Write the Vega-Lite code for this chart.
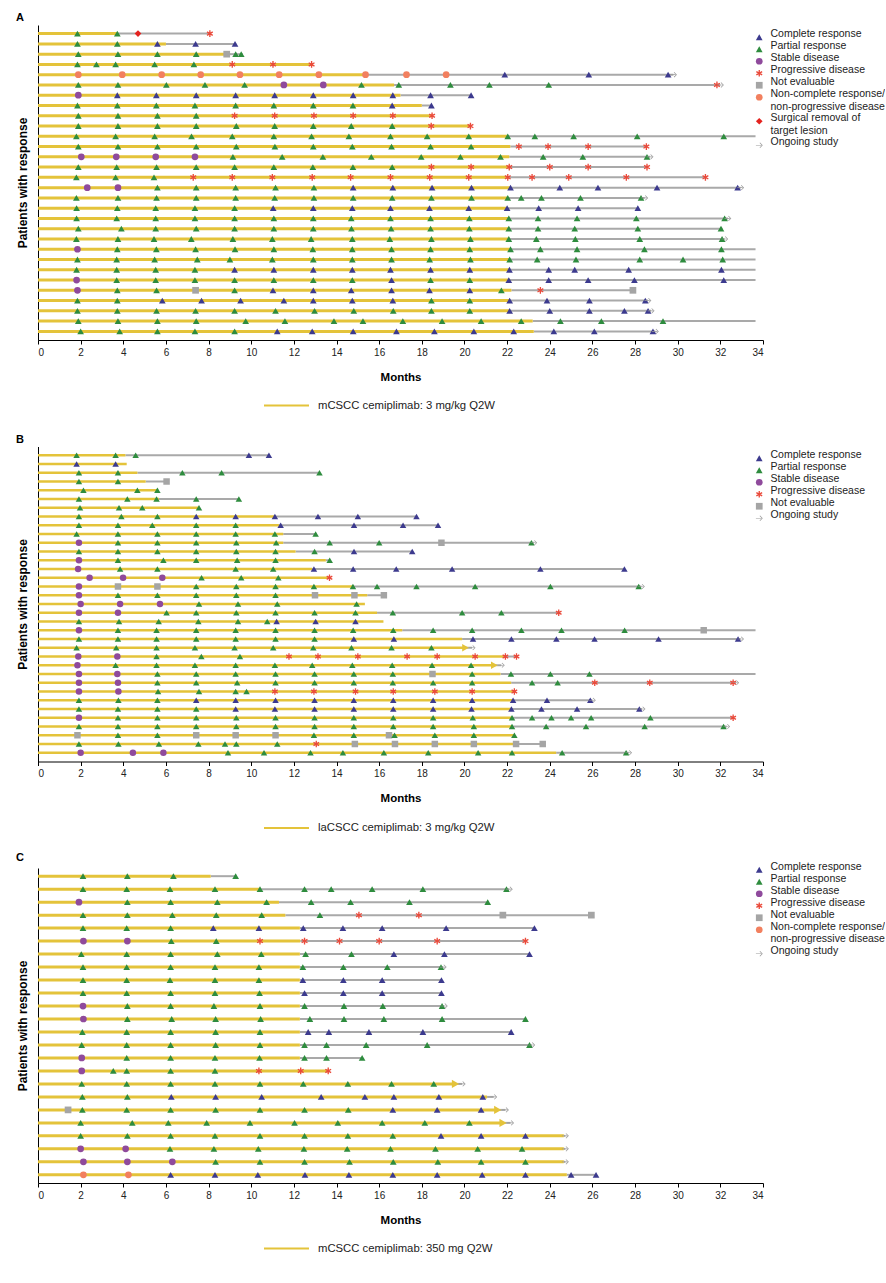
{
"$schema":"https://vega.github.io/schema/vega-lite/v6.json",
"padding":{"left":16,"top":12,"right":0,"bottom":0},
"background":"white",
"spacing":106.5,
"bounds":"flush",
"config":{"font":"Liberation Sans","view":{"stroke":null},
"axis":{"grid":false,"domainColor":"#000","tickColor":"#000","labelColor":"#222","titleColor":"#000","labelFontSize":10,"titleFontSize":11.5,"titleFontWeight":"bold","labelFont":"Liberation Sans","titleFont":"Liberation Sans"},
"axisX":{"tickSize":4,"titlePadding":14,"labelPadding":3},
"axisY":{"labels":false,"ticks":false,"titlePadding":9,"titleFontSize":12},
"legend":{"labelFontSize":10.5,"symbolSize":45,"rowPadding":0,"padding":0,"labelLimit":300,"labelColor":"#222","labelFont":"Liberation Sans","labelOffset":6},
"title":{"fontSize":11,"fontWeight":"bold","anchor":"start","offset":2,"font":"Liberation Sans"}},
"resolve":{"scale":{"color":"independent","shape":"independent","stroke":"independent"}},
"datasets":{
"aB":[{"p":1,"s":0,"te":3.7,"fe":8.1,"a":"mCSCC cemiplimab: 3 mg/kg Q2W"},{"p":2,"s":0,"te":6.0,"fe":9.3,"a":"mCSCC cemiplimab: 3 mg/kg Q2W"},{"p":3,"s":0,"te":8.8,"fe":9.6,"a":"mCSCC cemiplimab: 3 mg/kg Q2W"},{"p":4,"s":0,"te":12.9,"fe":12.9,"a":"mCSCC cemiplimab: 3 mg/kg Q2W"},{"p":5,"s":0,"te":15.3,"fe":29.8,"a":"mCSCC cemiplimab: 3 mg/kg Q2W"},{"p":6,"s":0,"te":16.7,"fe":32.0,"a":"mCSCC cemiplimab: 3 mg/kg Q2W"},{"p":7,"s":0,"te":17.0,"fe":20.3,"a":"mCSCC cemiplimab: 3 mg/kg Q2W"},{"p":8,"s":0,"te":18.0,"fe":18.45,"a":"mCSCC cemiplimab: 3 mg/kg Q2W"},{"p":9,"s":0,"te":18.5,"fe":18.5,"a":"mCSCC cemiplimab: 3 mg/kg Q2W"},{"p":10,"s":0,"te":20.3,"fe":20.3,"a":"mCSCC cemiplimab: 3 mg/kg Q2W"},{"p":11,"s":0,"te":22.0,"fe":33.65,"a":"mCSCC cemiplimab: 3 mg/kg Q2W"},{"p":12,"s":0,"te":22.15,"fe":28.55,"a":"mCSCC cemiplimab: 3 mg/kg Q2W"},{"p":13,"s":0,"te":22.1,"fe":28.7,"a":"mCSCC cemiplimab: 3 mg/kg Q2W"},{"p":14,"s":0,"te":22.1,"fe":28.6,"a":"mCSCC cemiplimab: 3 mg/kg Q2W"},{"p":15,"s":0,"te":22.05,"fe":31.3,"a":"mCSCC cemiplimab: 3 mg/kg Q2W"},{"p":16,"s":0,"te":22.15,"fe":32.95,"a":"mCSCC cemiplimab: 3 mg/kg Q2W"},{"p":17,"s":0,"te":22.05,"fe":28.45,"a":"mCSCC cemiplimab: 3 mg/kg Q2W"},{"p":18,"s":0,"te":22.0,"fe":28.15,"a":"mCSCC cemiplimab: 3 mg/kg Q2W"},{"p":19,"s":0,"te":22.1,"fe":32.35,"a":"mCSCC cemiplimab: 3 mg/kg Q2W"},{"p":20,"s":0,"te":22.1,"fe":32.1,"a":"mCSCC cemiplimab: 3 mg/kg Q2W"},{"p":21,"s":0,"te":22.1,"fe":32.2,"a":"mCSCC cemiplimab: 3 mg/kg Q2W"},{"p":22,"s":0,"te":22.15,"fe":33.65,"a":"mCSCC cemiplimab: 3 mg/kg Q2W"},{"p":23,"s":0,"te":22.1,"fe":33.65,"a":"mCSCC cemiplimab: 3 mg/kg Q2W"},{"p":24,"s":0,"te":22.1,"fe":33.65,"a":"mCSCC cemiplimab: 3 mg/kg Q2W"},{"p":25,"s":0,"te":22.1,"fe":33.65,"a":"mCSCC cemiplimab: 3 mg/kg Q2W"},{"p":26,"s":0,"te":22.2,"fe":27.95,"a":"mCSCC cemiplimab: 3 mg/kg Q2W"},{"p":27,"s":0,"te":22.1,"fe":28.6,"a":"mCSCC cemiplimab: 3 mg/kg Q2W"},{"p":28,"s":0,"te":22.1,"fe":28.75,"a":"mCSCC cemiplimab: 3 mg/kg Q2W"},{"p":29,"s":0,"te":23.2,"fe":33.65,"a":"mCSCC cemiplimab: 3 mg/kg Q2W"},{"p":30,"s":0,"te":23.25,"fe":28.95,"a":"mCSCC cemiplimab: 3 mg/kg Q2W"}],
"aM":[
{"p":1,"m":1.85,"r":"PR"},{"p":1,"m":3.72,"r":"PR"},{"p":1,"m":4.69,"r":"SR"},{"p":1,"m":8.06,"r":"PD"},
{"p":2,"m":1.85,"r":"PR"},{"p":2,"m":3.72,"r":"PR"},{"p":2,"m":5.6,"r":"CR"},{"p":2,"m":7.39,"r":"CR"},{"p":2,"m":9.24,"r":"CR"},
{"p":3,"m":1.89,"r":"PR"},{"p":3,"m":3.75,"r":"PR"},{"p":3,"m":5.6,"r":"PR"},{"p":3,"m":7.42,"r":"PR"},{"p":3,"m":8.85,"r":"NE"},{"p":3,"m":9.27,"r":"PR"},{"p":3,"m":9.53,"r":"PR"},
{"p":4,"m":1.85,"r":"PR"},{"p":4,"m":2.74,"r":"PR"},{"p":4,"m":3.64,"r":"PR"},{"p":4,"m":5.47,"r":"PR"},{"p":4,"m":7.31,"r":"PR"},{"p":4,"m":9.11,"r":"PD"},{"p":4,"m":11.02,"r":"PD"},{"p":4,"m":12.83,"r":"PD"},
{"p":5,"m":1.89,"r":"NN"},{"p":5,"m":3.95,"r":"NN"},{"p":5,"m":5.8,"r":"NN"},{"p":5,"m":7.63,"r":"NN"},{"p":5,"m":9.47,"r":"NN"},{"p":5,"m":11.31,"r":"NN"},{"p":5,"m":13.17,"r":"NN"},{"p":5,"m":15.36,"r":"NN"},{"p":5,"m":17.28,"r":"NN"},{"p":5,"m":19.14,"r":"NN"},{"p":5,"m":21.89,"r":"CR"},{"p":5,"m":25.83,"r":"CR"},{"p":5,"m":29.55,"r":"CR"},{"p":5,"m":29.8,"r":"ON"},
{"p":6,"m":1.89,"r":"PR"},{"p":6,"m":3.75,"r":"PR"},{"p":6,"m":6.02,"r":"PR"},{"p":6,"m":7.83,"r":"PR"},{"p":6,"m":9.69,"r":"PR"},{"p":6,"m":11.53,"r":"SD"},{"p":6,"m":13.38,"r":"SD"},{"p":6,"m":15.17,"r":"PR"},{"p":6,"m":16.92,"r":"PR"},{"p":6,"m":19.34,"r":"PR"},{"p":6,"m":21.17,"r":"PR"},{"p":6,"m":23.95,"r":"PR"},{"p":6,"m":31.84,"r":"PD"},{"p":6,"m":32.0,"r":"ON"},
{"p":7,"m":1.89,"r":"SD"},{"p":7,"m":3.72,"r":"CR"},{"p":7,"m":5.55,"r":"CR"},{"p":7,"m":7.42,"r":"CR"},{"p":7,"m":9.27,"r":"CR"},{"p":7,"m":11.1,"r":"CR"},{"p":7,"m":12.91,"r":"CR"},{"p":7,"m":14.78,"r":"CR"},{"p":7,"m":16.64,"r":"CR"},{"p":7,"m":18.41,"r":"CR"},{"p":7,"m":20.31,"r":"CR"},
{"p":8,"m":1.85,"r":"PR"},{"p":8,"m":3.72,"r":"PR"},{"p":8,"m":5.55,"r":"PR"},{"p":8,"m":7.36,"r":"PR"},{"p":8,"m":9.27,"r":"PR"},{"p":8,"m":11.06,"r":"PR"},{"p":8,"m":12.91,"r":"PR"},{"p":8,"m":14.77,"r":"PR"},{"p":8,"m":16.61,"r":"CR"},{"p":8,"m":18.45,"r":"CR"},
{"p":9,"m":1.89,"r":"PR"},{"p":9,"m":3.75,"r":"PR"},{"p":9,"m":5.6,"r":"PR"},{"p":9,"m":7.42,"r":"PR"},{"p":9,"m":9.22,"r":"PD"},{"p":9,"m":11.1,"r":"PD"},{"p":9,"m":12.94,"r":"PD"},{"p":9,"m":14.78,"r":"PD"},{"p":9,"m":16.64,"r":"PD"},{"p":9,"m":18.48,"r":"PD"},
{"p":10,"m":1.89,"r":"PR"},{"p":10,"m":3.75,"r":"PR"},{"p":10,"m":5.6,"r":"PR"},{"p":10,"m":7.42,"r":"PR"},{"p":10,"m":9.3,"r":"PR"},{"p":10,"m":11.1,"r":"PR"},{"p":10,"m":12.91,"r":"PR"},{"p":10,"m":14.69,"r":"PR"},{"p":10,"m":16.61,"r":"PR"},{"p":10,"m":18.44,"r":"PD"},{"p":10,"m":20.28,"r":"PD"},
{"p":11,"m":1.8,"r":"PR"},{"p":11,"m":3.64,"r":"PR"},{"p":11,"m":5.47,"r":"PR"},{"p":11,"m":7.2,"r":"PR"},{"p":11,"m":9.11,"r":"PR"},{"p":11,"m":11.06,"r":"PR"},{"p":11,"m":12.83,"r":"PR"},{"p":11,"m":14.58,"r":"PR"},{"p":11,"m":16.53,"r":"PR"},{"p":11,"m":18.25,"r":"PR"},{"p":11,"m":20.2,"r":"PR"},{"p":11,"m":22.03,"r":"PR"},{"p":11,"m":23.3,"r":"PR"},{"p":11,"m":25.12,"r":"PR"},{"p":11,"m":28.1,"r":"PR"},{"p":11,"m":32.16,"r":"PR"},
{"p":12,"m":1.89,"r":"PR"},{"p":12,"m":3.75,"r":"PR"},{"p":12,"m":5.6,"r":"PR"},{"p":12,"m":7.42,"r":"PR"},{"p":12,"m":9.3,"r":"PR"},{"p":12,"m":11.11,"r":"PR"},{"p":12,"m":12.91,"r":"PR"},{"p":12,"m":14.74,"r":"PR"},{"p":12,"m":16.58,"r":"PR"},{"p":12,"m":18.41,"r":"PR"},{"p":12,"m":20.31,"r":"PR"},{"p":12,"m":22.55,"r":"PD"},{"p":12,"m":23.92,"r":"PD"},{"p":12,"m":25.8,"r":"PD"},{"p":12,"m":28.53,"r":"PD"},
{"p":13,"m":2.03,"r":"SD"},{"p":13,"m":3.67,"r":"SD"},{"p":13,"m":5.52,"r":"SD"},{"p":13,"m":7.36,"r":"SD"},{"p":13,"m":9.14,"r":"PR"},{"p":13,"m":11.45,"r":"PR"},{"p":13,"m":13.36,"r":"PR"},{"p":13,"m":15.63,"r":"PR"},{"p":13,"m":17.97,"r":"PR"},{"p":13,"m":19.81,"r":"PR"},{"p":13,"m":21.69,"r":"PR"},{"p":13,"m":23.69,"r":"PR"},{"p":13,"m":25.55,"r":"PR"},{"p":13,"m":28.56,"r":"PR"},{"p":13,"m":28.7,"r":"ON"},
{"p":14,"m":1.89,"r":"PR"},{"p":14,"m":3.69,"r":"PR"},{"p":14,"m":5.56,"r":"PR"},{"p":14,"m":7.42,"r":"PR"},{"p":14,"m":9.22,"r":"PR"},{"p":14,"m":11.06,"r":"PR"},{"p":14,"m":12.89,"r":"PR"},{"p":14,"m":14.77,"r":"PR"},{"p":14,"m":16.61,"r":"PR"},{"p":14,"m":18.45,"r":"PD"},{"p":14,"m":20.31,"r":"PD"},{"p":14,"m":22.1,"r":"PD"},{"p":14,"m":24.0,"r":"PD"},{"p":14,"m":25.8,"r":"PD"},{"p":14,"m":28.56,"r":"PD"},
{"p":15,"m":1.8,"r":"PR"},{"p":15,"m":3.64,"r":"PR"},{"p":15,"m":5.44,"r":"PR"},{"p":15,"m":7.28,"r":"PD"},{"p":15,"m":9.11,"r":"PD"},{"p":15,"m":10.99,"r":"PD"},{"p":15,"m":12.86,"r":"PD"},{"p":15,"m":14.66,"r":"PD"},{"p":15,"m":16.53,"r":"PD"},{"p":15,"m":18.37,"r":"PD"},{"p":15,"m":20.2,"r":"PD"},{"p":15,"m":22.03,"r":"PD"},{"p":15,"m":23.17,"r":"PD"},{"p":15,"m":24.89,"r":"PD"},{"p":15,"m":27.59,"r":"PD"},{"p":15,"m":31.3,"r":"PD"},
{"p":16,"m":2.31,"r":"SD"},{"p":16,"m":3.75,"r":"SD"},{"p":16,"m":5.6,"r":"PR"},{"p":16,"m":7.42,"r":"PR"},{"p":16,"m":9.27,"r":"PR"},{"p":16,"m":11.14,"r":"PR"},{"p":16,"m":12.94,"r":"PR"},{"p":16,"m":14.78,"r":"CR"},{"p":16,"m":16.64,"r":"CR"},{"p":16,"m":18.48,"r":"CR"},{"p":16,"m":20.33,"r":"CR"},{"p":16,"m":22.16,"r":"CR"},{"p":16,"m":24.47,"r":"CR"},{"p":16,"m":26.26,"r":"CR"},{"p":16,"m":29.03,"r":"CR"},{"p":16,"m":32.81,"r":"CR"},{"p":16,"m":32.95,"r":"ON"},
{"p":17,"m":1.8,"r":"PR"},{"p":17,"m":3.75,"r":"PR"},{"p":17,"m":5.56,"r":"PR"},{"p":17,"m":7.42,"r":"PR"},{"p":17,"m":9.27,"r":"PR"},{"p":17,"m":11.1,"r":"PR"},{"p":17,"m":12.94,"r":"PR"},{"p":17,"m":14.78,"r":"PR"},{"p":17,"m":16.61,"r":"PR"},{"p":17,"m":18.45,"r":"PR"},{"p":17,"m":20.33,"r":"PR"},{"p":17,"m":22.03,"r":"PR"},{"p":17,"m":22.66,"r":"PR"},{"p":17,"m":23.61,"r":"PR"},{"p":17,"m":25.44,"r":"PR"},{"p":17,"m":28.28,"r":"PR"},{"p":17,"m":28.45,"r":"ON"},
{"p":18,"m":1.81,"r":"PR"},{"p":18,"m":3.72,"r":"PR"},{"p":18,"m":5.52,"r":"PR"},{"p":18,"m":7.36,"r":"PR"},{"p":18,"m":9.22,"r":"PR"},{"p":18,"m":11.03,"r":"CR"},{"p":18,"m":12.91,"r":"CR"},{"p":18,"m":14.74,"r":"CR"},{"p":18,"m":16.53,"r":"CR"},{"p":18,"m":18.36,"r":"CR"},{"p":18,"m":20.2,"r":"CR"},{"p":18,"m":22.0,"r":"CR"},{"p":18,"m":23.48,"r":"CR"},{"p":18,"m":25.33,"r":"CR"},{"p":18,"m":28.13,"r":"CR"},
{"p":19,"m":1.81,"r":"PR"},{"p":19,"m":3.69,"r":"PR"},{"p":19,"m":5.52,"r":"PR"},{"p":19,"m":7.36,"r":"PR"},{"p":19,"m":9.22,"r":"PR"},{"p":19,"m":11.06,"r":"PR"},{"p":19,"m":12.91,"r":"PR"},{"p":19,"m":14.69,"r":"PR"},{"p":19,"m":16.53,"r":"PR"},{"p":19,"m":18.41,"r":"PR"},{"p":19,"m":20.23,"r":"PR"},{"p":19,"m":22.08,"r":"PR"},{"p":19,"m":23.45,"r":"PR"},{"p":19,"m":25.28,"r":"PR"},{"p":19,"m":28.06,"r":"PR"},{"p":19,"m":32.2,"r":"PR"},{"p":19,"m":32.35,"r":"ON"},
{"p":20,"m":1.89,"r":"PR"},{"p":20,"m":3.91,"r":"PR"},{"p":20,"m":5.52,"r":"PR"},{"p":20,"m":7.42,"r":"PR"},{"p":20,"m":9.22,"r":"PR"},{"p":20,"m":11.06,"r":"PR"},{"p":20,"m":12.91,"r":"PR"},{"p":20,"m":14.7,"r":"PR"},{"p":20,"m":16.56,"r":"PR"},{"p":20,"m":18.41,"r":"PR"},{"p":20,"m":20.23,"r":"PR"},{"p":20,"m":22.08,"r":"PR"},{"p":20,"m":23.45,"r":"PR"},{"p":20,"m":25.17,"r":"PR"},{"p":20,"m":28.13,"r":"PR"},{"p":20,"m":32.03,"r":"PR"},
{"p":21,"m":1.8,"r":"PR"},{"p":21,"m":3.75,"r":"PR"},{"p":21,"m":5.44,"r":"PR"},{"p":21,"m":7.19,"r":"PR"},{"p":21,"m":9.14,"r":"PR"},{"p":21,"m":10.99,"r":"PR"},{"p":21,"m":12.81,"r":"PR"},{"p":21,"m":14.74,"r":"PR"},{"p":21,"m":16.5,"r":"PR"},{"p":21,"m":18.45,"r":"PR"},{"p":21,"m":20.28,"r":"PR"},{"p":21,"m":22.08,"r":"PR"},{"p":21,"m":23.37,"r":"PR"},{"p":21,"m":25.2,"r":"PR"},{"p":21,"m":28.22,"r":"PR"},{"p":21,"m":32.08,"r":"PR"},{"p":21,"m":32.2,"r":"ON"},
{"p":22,"m":1.85,"r":"SD"},{"p":22,"m":3.72,"r":"PR"},{"p":22,"m":5.55,"r":"PR"},{"p":22,"m":7.39,"r":"PR"},{"p":22,"m":9.24,"r":"PR"},{"p":22,"m":11.06,"r":"PR"},{"p":22,"m":12.89,"r":"PR"},{"p":22,"m":14.74,"r":"PR"},{"p":22,"m":16.58,"r":"PR"},{"p":22,"m":18.41,"r":"PR"},{"p":22,"m":20.25,"r":"PR"},{"p":22,"m":22.16,"r":"PR"},{"p":22,"m":23.56,"r":"PR"},{"p":22,"m":25.28,"r":"PR"},{"p":22,"m":28.44,"r":"PR"},{"p":22,"m":32.05,"r":"PR"},
{"p":23,"m":1.85,"r":"PR"},{"p":23,"m":3.69,"r":"PR"},{"p":23,"m":5.47,"r":"PR"},{"p":23,"m":7.47,"r":"PR"},{"p":23,"m":9.0,"r":"PR"},{"p":23,"m":10.99,"r":"PR"},{"p":23,"m":12.91,"r":"PR"},{"p":23,"m":14.74,"r":"PR"},{"p":23,"m":16.58,"r":"PR"},{"p":23,"m":18.37,"r":"PR"},{"p":23,"m":20.28,"r":"PR"},{"p":23,"m":22.12,"r":"PR"},{"p":23,"m":23.41,"r":"PR"},{"p":23,"m":25.23,"r":"PR"},{"p":23,"m":28.22,"r":"PR"},{"p":23,"m":30.25,"r":"PR"},{"p":23,"m":32.11,"r":"PR"},
{"p":24,"m":1.81,"r":"PR"},{"p":24,"m":3.69,"r":"PR"},{"p":24,"m":5.52,"r":"PR"},{"p":24,"m":7.36,"r":"PR"},{"p":24,"m":9.22,"r":"CR"},{"p":24,"m":11.06,"r":"CR"},{"p":24,"m":12.91,"r":"CR"},{"p":24,"m":14.74,"r":"CR"},{"p":24,"m":16.53,"r":"CR"},{"p":24,"m":18.41,"r":"CR"},{"p":24,"m":20.25,"r":"CR"},{"p":24,"m":22.11,"r":"CR"},{"p":24,"m":23.95,"r":"CR"},{"p":24,"m":25.17,"r":"CR"},{"p":24,"m":27.7,"r":"CR"},{"p":24,"m":32.05,"r":"CR"},
{"p":25,"m":1.81,"r":"SD"},{"p":25,"m":3.69,"r":"PR"},{"p":25,"m":5.52,"r":"PR"},{"p":25,"m":7.36,"r":"PR"},{"p":25,"m":9.22,"r":"PR"},{"p":25,"m":11.06,"r":"PR"},{"p":25,"m":12.91,"r":"PR"},{"p":25,"m":14.74,"r":"PR"},{"p":25,"m":16.58,"r":"CR"},{"p":25,"m":18.41,"r":"PR"},{"p":25,"m":20.25,"r":"PR"},{"p":25,"m":22.08,"r":"CR"},{"p":25,"m":23.95,"r":"CR"},{"p":25,"m":25.8,"r":"CR"},{"p":25,"m":27.97,"r":"CR"},{"p":25,"m":32.16,"r":"CR"},
{"p":26,"m":1.85,"r":"SD"},{"p":26,"m":3.72,"r":"PR"},{"p":26,"m":5.56,"r":"PR"},{"p":26,"m":7.39,"r":"NE"},{"p":26,"m":9.22,"r":"PR"},{"p":26,"m":11.02,"r":"CR"},{"p":26,"m":12.91,"r":"CR"},{"p":26,"m":14.69,"r":"CR"},{"p":26,"m":16.58,"r":"CR"},{"p":26,"m":18.36,"r":"CR"},{"p":26,"m":20.25,"r":"CR"},{"p":26,"m":21.73,"r":"PR"},{"p":26,"m":23.56,"r":"PD"},{"p":26,"m":27.9,"r":"NE"},
{"p":27,"m":1.85,"r":"PR"},{"p":27,"m":3.72,"r":"PR"},{"p":27,"m":5.83,"r":"CR"},{"p":27,"m":7.67,"r":"CR"},{"p":27,"m":9.5,"r":"CR"},{"p":27,"m":11.53,"r":"CR"},{"p":27,"m":12.91,"r":"CR"},{"p":27,"m":14.74,"r":"CR"},{"p":27,"m":16.64,"r":"CR"},{"p":27,"m":18.45,"r":"PR"},{"p":27,"m":20.25,"r":"PR"},{"p":27,"m":22.12,"r":"CR"},{"p":27,"m":23.87,"r":"CR"},{"p":27,"m":25.86,"r":"CR"},{"p":27,"m":28.48,"r":"CR"},{"p":27,"m":28.6,"r":"ON"},
{"p":28,"m":1.85,"r":"PR"},{"p":28,"m":3.72,"r":"PR"},{"p":28,"m":5.56,"r":"PR"},{"p":28,"m":7.39,"r":"PR"},{"p":28,"m":9.22,"r":"PR"},{"p":28,"m":11.14,"r":"PR"},{"p":28,"m":12.97,"r":"PR"},{"p":28,"m":14.81,"r":"PR"},{"p":28,"m":16.66,"r":"PR"},{"p":28,"m":18.45,"r":"PR"},{"p":28,"m":20.25,"r":"PR"},{"p":28,"m":22.12,"r":"CR"},{"p":28,"m":24.0,"r":"CR"},{"p":28,"m":25.86,"r":"CR"},{"p":28,"m":27.5,"r":"CR"},{"p":28,"m":28.61,"r":"CR"},{"p":28,"m":28.75,"r":"ON"},
{"p":29,"m":1.89,"r":"PR"},{"p":29,"m":3.75,"r":"PR"},{"p":29,"m":5.6,"r":"PR"},{"p":29,"m":7.42,"r":"PR"},{"p":29,"m":9.74,"r":"PR"},{"p":29,"m":11.58,"r":"PR"},{"p":29,"m":13.88,"r":"PR"},{"p":29,"m":15.24,"r":"PR"},{"p":29,"m":17.11,"r":"PR"},{"p":29,"m":18.95,"r":"PR"},{"p":29,"m":20.78,"r":"PR"},{"p":29,"m":22.66,"r":"PR"},{"p":29,"m":24.5,"r":"PR"},{"p":29,"m":26.42,"r":"PR"},{"p":29,"m":29.31,"r":"PR"},
{"p":30,"m":2.0,"r":"PR"},{"p":30,"m":3.83,"r":"PR"},{"p":30,"m":5.6,"r":"PR"},{"p":30,"m":7.36,"r":"PR"},{"p":30,"m":9.22,"r":"PR"},{"p":30,"m":11.22,"r":"CR"},{"p":30,"m":12.86,"r":"CR"},{"p":30,"m":14.78,"r":"CR"},{"p":30,"m":16.81,"r":"CR"},{"p":30,"m":18.59,"r":"CR"},{"p":30,"m":20.44,"r":"CR"},{"p":30,"m":22.31,"r":"CR"},{"p":30,"m":24.19,"r":"CR"},{"p":30,"m":26.09,"r":"CR"},{"p":30,"m":28.84,"r":"CR"},{"p":30,"m":28.95,"r":"ON"}
],
"bB":[{"p":1,"s":0,"te":4.1,"fe":10.83,"a":"laCSCC cemiplimab: 3 mg/kg Q2W"},{"p":2,"s":0,"te":4.16,"fe":4.16,"a":"laCSCC cemiplimab: 3 mg/kg Q2W"},{"p":3,"s":0,"te":4.66,"fe":13.2,"a":"laCSCC cemiplimab: 3 mg/kg Q2W"},{"p":4,"s":0,"te":5.05,"fe":6.03,"a":"laCSCC cemiplimab: 3 mg/kg Q2W"},{"p":5,"s":0,"te":5.6,"fe":5.6,"a":"laCSCC cemiplimab: 3 mg/kg Q2W"},{"p":6,"s":0,"te":5.67,"fe":9.42,"a":"laCSCC cemiplimab: 3 mg/kg Q2W"},{"p":7,"s":0,"te":7.55,"fe":7.55,"a":"laCSCC cemiplimab: 3 mg/kg Q2W"},{"p":8,"s":0,"te":11.14,"fe":17.75,"a":"laCSCC cemiplimab: 3 mg/kg Q2W"},{"p":9,"s":0,"te":11.3,"fe":18.76,"a":"laCSCC cemiplimab: 3 mg/kg Q2W"},{"p":10,"s":0,"te":11.5,"fe":13.05,"a":"laCSCC cemiplimab: 3 mg/kg Q2W"},{"p":11,"s":0,"te":11.5,"fe":23.25,"a":"laCSCC cemiplimab: 3 mg/kg Q2W"},{"p":12,"s":0,"te":12.08,"fe":17.55,"a":"laCSCC cemiplimab: 3 mg/kg Q2W"},{"p":13,"s":0,"te":13.5,"fe":13.7,"a":"laCSCC cemiplimab: 3 mg/kg Q2W"},{"p":14,"s":0,"te":12.86,"fe":27.5,"a":"laCSCC cemiplimab: 3 mg/kg Q2W"},{"p":15,"s":0,"te":13.67,"fe":13.67,"a":"laCSCC cemiplimab: 3 mg/kg Q2W"},{"p":16,"s":0,"te":14.8,"fe":28.3,"a":"laCSCC cemiplimab: 3 mg/kg Q2W"},{"p":17,"s":0,"te":15.44,"fe":16.22,"a":"laCSCC cemiplimab: 3 mg/kg Q2W"},{"p":18,"s":0,"te":15.33,"fe":15.33,"a":"laCSCC cemiplimab: 3 mg/kg Q2W"},{"p":19,"s":0,"te":15.9,"fe":24.42,"a":"laCSCC cemiplimab: 3 mg/kg Q2W"},{"p":20,"s":0,"te":16.2,"fe":16.2,"a":"laCSCC cemiplimab: 3 mg/kg Q2W"},{"p":21,"s":0,"te":17.08,"fe":33.65,"a":"laCSCC cemiplimab: 3 mg/kg Q2W"},{"p":22,"s":0,"te":19.89,"fe":32.95,"a":"laCSCC cemiplimab: 3 mg/kg Q2W"},{"p":23,"s":0,"te":20.0,"fe":20.36,"a":"laCSCC cemiplimab: 3 mg/kg Q2W"},{"p":24,"s":0,"te":21.92,"fe":22.44,"a":"laCSCC cemiplimab: 3 mg/kg Q2W"},{"p":25,"s":0,"te":21.35,"fe":21.73,"a":"laCSCC cemiplimab: 3 mg/kg Q2W"},{"p":26,"s":0,"te":21.69,"fe":33.65,"a":"laCSCC cemiplimab: 3 mg/kg Q2W"},{"p":27,"s":0,"te":22.19,"fe":32.72,"a":"laCSCC cemiplimab: 3 mg/kg Q2W"},{"p":28,"s":0,"te":22.34,"fe":22.34,"a":"laCSCC cemiplimab: 3 mg/kg Q2W"},{"p":29,"s":0,"te":22.28,"fe":26.0,"a":"laCSCC cemiplimab: 3 mg/kg Q2W"},{"p":30,"s":0,"te":22.2,"fe":28.33,"a":"laCSCC cemiplimab: 3 mg/kg Q2W"},{"p":31,"s":0,"te":22.23,"fe":32.6,"a":"laCSCC cemiplimab: 3 mg/kg Q2W"},{"p":32,"s":0,"te":22.23,"fe":32.3,"a":"laCSCC cemiplimab: 3 mg/kg Q2W"},{"p":33,"s":0,"te":22.34,"fe":22.34,"a":"laCSCC cemiplimab: 3 mg/kg Q2W"},{"p":34,"s":0,"te":22.42,"fe":23.67,"a":"laCSCC cemiplimab: 3 mg/kg Q2W"},{"p":35,"s":0,"te":24.3,"fe":27.7,"a":"laCSCC cemiplimab: 3 mg/kg Q2W"}],
"bH":[{"p":23,"m":20.05},{"p":25,"m":21.4}],
"bM":[
{"p":1,"m":1.81,"r":"PR"},{"p":1,"m":3.64,"r":"PR"},{"p":1,"m":4.58,"r":"PR"},{"p":1,"m":9.89,"r":"CR"},{"p":1,"m":10.83,"r":"CR"},
{"p":2,"m":1.81,"r":"CR"},{"p":2,"m":3.64,"r":"CR"},
{"p":3,"m":1.92,"r":"PR"},{"p":3,"m":3.75,"r":"PR"},{"p":3,"m":6.77,"r":"PR"},{"p":3,"m":8.61,"r":"PR"},{"p":3,"m":13.2,"r":"PR"},
{"p":4,"m":1.92,"r":"PR"},{"p":4,"m":3.75,"r":"PR"},{"p":4,"m":6.03,"r":"NE"},
{"p":5,"m":2.13,"r":"PR"},{"p":5,"m":4.66,"r":"PR"},{"p":5,"m":5.6,"r":"PR"},
{"p":6,"m":1.92,"r":"PR"},{"p":6,"m":4.19,"r":"PR"},{"p":6,"m":5.56,"r":"PR"},{"p":6,"m":7.42,"r":"PR"},{"p":6,"m":9.42,"r":"PR"},
{"p":7,"m":1.97,"r":"PR"},{"p":7,"m":3.8,"r":"PR"},{"p":7,"m":4.89,"r":"PR"},{"p":7,"m":7.55,"r":"PR"},
{"p":8,"m":1.92,"r":"PR"},{"p":8,"m":3.91,"r":"PR"},{"p":8,"m":5.6,"r":"PR"},{"p":8,"m":7.42,"r":"CR"},{"p":8,"m":9.27,"r":"CR"},{"p":8,"m":11.11,"r":"CR"},{"p":8,"m":13.13,"r":"CR"},{"p":8,"m":15.0,"r":"CR"},{"p":8,"m":17.75,"r":"CR"},
{"p":9,"m":1.92,"r":"PR"},{"p":9,"m":3.75,"r":"PR"},{"p":9,"m":5.36,"r":"PR"},{"p":9,"m":7.42,"r":"PR"},{"p":9,"m":9.27,"r":"PR"},{"p":9,"m":11.38,"r":"CR"},{"p":9,"m":14.82,"r":"CR"},{"p":9,"m":17.12,"r":"CR"},{"p":9,"m":18.76,"r":"CR"},
{"p":10,"m":1.81,"r":"PR"},{"p":10,"m":3.75,"r":"PR"},{"p":10,"m":5.6,"r":"PR"},{"p":10,"m":7.42,"r":"PR"},{"p":10,"m":9.27,"r":"PR"},{"p":10,"m":11.11,"r":"PR"},{"p":10,"m":13.02,"r":"PR"},
{"p":11,"m":1.92,"r":"SD"},{"p":11,"m":3.75,"r":"PR"},{"p":11,"m":5.6,"r":"PR"},{"p":11,"m":7.42,"r":"PR"},{"p":11,"m":9.3,"r":"PR"},{"p":11,"m":11.17,"r":"PR"},{"p":11,"m":13.68,"r":"PR"},{"p":11,"m":16.0,"r":"PR"},{"p":11,"m":18.92,"r":"NE"},{"p":11,"m":23.14,"r":"PR"},{"p":11,"m":23.25,"r":"ON"},
{"p":12,"m":1.92,"r":"PR"},{"p":12,"m":3.75,"r":"PR"},{"p":12,"m":5.6,"r":"PR"},{"p":12,"m":7.42,"r":"PR"},{"p":12,"m":9.3,"r":"PR"},{"p":12,"m":11.14,"r":"PR"},{"p":12,"m":12.97,"r":"PR"},{"p":12,"m":14.82,"r":"CR"},{"p":12,"m":17.55,"r":"CR"},
{"p":13,"m":1.92,"r":"SD"},{"p":13,"m":3.75,"r":"PR"},{"p":13,"m":5.88,"r":"PR"},{"p":13,"m":7.42,"r":"PR"},{"p":13,"m":9.34,"r":"PR"},{"p":13,"m":11.14,"r":"PR"},{"p":13,"m":13.68,"r":"PR"},
{"p":14,"m":1.88,"r":"SD"},{"p":14,"m":3.85,"r":"PR"},{"p":14,"m":5.6,"r":"PR"},{"p":14,"m":9.27,"r":"PR"},{"p":14,"m":11.03,"r":"PR"},{"p":14,"m":12.94,"r":"CR"},{"p":14,"m":14.78,"r":"CR"},{"p":14,"m":16.8,"r":"CR"},{"p":14,"m":19.42,"r":"CR"},{"p":14,"m":23.56,"r":"CR"},{"p":14,"m":27.5,"r":"CR"},
{"p":15,"m":2.42,"r":"SD"},{"p":15,"m":3.99,"r":"SD"},{"p":15,"m":5.83,"r":"SD"},{"p":15,"m":7.67,"r":"PR"},{"p":15,"m":9.53,"r":"PR"},{"p":15,"m":11.27,"r":"PR"},{"p":15,"m":13.67,"r":"PD"},
{"p":16,"m":1.92,"r":"SD"},{"p":16,"m":3.75,"r":"NE"},{"p":16,"m":5.6,"r":"NE"},{"p":16,"m":7.42,"r":"PR"},{"p":16,"m":9.3,"r":"PR"},{"p":16,"m":11.14,"r":"PR"},{"p":16,"m":12.94,"r":"PR"},{"p":16,"m":14.77,"r":"PR"},{"p":16,"m":15.9,"r":"PR"},{"p":16,"m":17.75,"r":"PR"},{"p":16,"m":20.5,"r":"PR"},{"p":16,"m":24.03,"r":"PR"},{"p":16,"m":28.17,"r":"PR"},{"p":16,"m":28.3,"r":"ON"},
{"p":17,"m":1.92,"r":"SD"},{"p":17,"m":3.75,"r":"PR"},{"p":17,"m":5.6,"r":"PR"},{"p":17,"m":7.42,"r":"PR"},{"p":17,"m":9.3,"r":"PR"},{"p":17,"m":11.14,"r":"PR"},{"p":17,"m":12.99,"r":"NE"},{"p":17,"m":14.84,"r":"NE"},{"p":17,"m":16.22,"r":"NE"},
{"p":18,"m":2.0,"r":"SD"},{"p":18,"m":3.85,"r":"SD"},{"p":18,"m":5.72,"r":"SD"},{"p":18,"m":7.55,"r":"PR"},{"p":18,"m":9.38,"r":"PR"},{"p":18,"m":11.22,"r":"PR"},{"p":18,"m":14.94,"r":"PR"},
{"p":19,"m":1.92,"r":"SD"},{"p":19,"m":3.75,"r":"SD"},{"p":19,"m":6.03,"r":"PR"},{"p":19,"m":7.42,"r":"PR"},{"p":19,"m":9.3,"r":"PR"},{"p":19,"m":11.14,"r":"PR"},{"p":19,"m":12.97,"r":"PR"},{"p":19,"m":14.89,"r":"PR"},{"p":19,"m":16.64,"r":"PR"},{"p":19,"m":19.89,"r":"PR"},{"p":19,"m":21.73,"r":"PR"},{"p":19,"m":24.42,"r":"PD"},
{"p":20,"m":1.92,"r":"PR"},{"p":20,"m":3.8,"r":"PR"},{"p":20,"m":5.66,"r":"PR"},{"p":20,"m":7.52,"r":"PR"},{"p":20,"m":9.38,"r":"PR"},{"p":20,"m":10.75,"r":"PR"},{"p":20,"m":11.19,"r":"CR"},{"p":20,"m":13.02,"r":"CR"},{"p":20,"m":14.89,"r":"CR"},
{"p":21,"m":1.92,"r":"SD"},{"p":21,"m":3.75,"r":"PR"},{"p":21,"m":5.56,"r":"PR"},{"p":21,"m":7.42,"r":"PR"},{"p":21,"m":9.27,"r":"PR"},{"p":21,"m":11.14,"r":"PR"},{"p":21,"m":12.97,"r":"PR"},{"p":21,"m":14.78,"r":"PR"},{"p":21,"m":16.66,"r":"PR"},{"p":21,"m":18.53,"r":"PR"},{"p":21,"m":20.36,"r":"PR"},{"p":21,"m":22.67,"r":"PR"},{"p":21,"m":24.55,"r":"PR"},{"p":21,"m":27.51,"r":"PR"},{"p":21,"m":31.22,"r":"NE"},
{"p":22,"m":1.92,"r":"PR"},{"p":22,"m":3.75,"r":"PR"},{"p":22,"m":5.56,"r":"PR"},{"p":22,"m":7.42,"r":"PR"},{"p":22,"m":9.27,"r":"PR"},{"p":22,"m":11.14,"r":"PR"},{"p":22,"m":12.97,"r":"PR"},{"p":22,"m":14.81,"r":"CR"},{"p":22,"m":16.69,"r":"CR"},{"p":22,"m":20.4,"r":"CR"},{"p":22,"m":22.2,"r":"CR"},{"p":22,"m":24.31,"r":"CR"},{"p":22,"m":26.1,"r":"CR"},{"p":22,"m":29.1,"r":"CR"},{"p":22,"m":32.83,"r":"CR"},{"p":22,"m":32.95,"r":"ON"},
{"p":23,"m":1.81,"r":"PR"},{"p":23,"m":3.67,"r":"PR"},{"p":23,"m":5.56,"r":"PR"},{"p":23,"m":7.36,"r":"PR"},{"p":23,"m":9.22,"r":"PR"},{"p":23,"m":11.03,"r":"PR"},{"p":23,"m":12.91,"r":"PR"},{"p":23,"m":14.7,"r":"PR"},{"p":23,"m":16.58,"r":"PR"},{"p":23,"m":18.45,"r":"PR"},{"p":23,"m":20.36,"r":"ON"},
{"p":24,"m":1.89,"r":"SD"},{"p":24,"m":3.72,"r":"SD"},{"p":24,"m":5.56,"r":"PR"},{"p":24,"m":7.66,"r":"PR"},{"p":24,"m":9.47,"r":"PR"},{"p":24,"m":11.77,"r":"PD"},{"p":24,"m":13.13,"r":"PD"},{"p":24,"m":15.0,"r":"PD"},{"p":24,"m":17.31,"r":"PD"},{"p":24,"m":18.72,"r":"PD"},{"p":24,"m":20.5,"r":"PD"},{"p":24,"m":21.92,"r":"PD"},{"p":24,"m":22.44,"r":"PD"},
{"p":25,"m":1.85,"r":"SD"},{"p":25,"m":3.64,"r":"PR"},{"p":25,"m":5.56,"r":"PR"},{"p":25,"m":7.36,"r":"PR"},{"p":25,"m":9.27,"r":"PR"},{"p":25,"m":11.11,"r":"PR"},{"p":25,"m":12.86,"r":"PR"},{"p":25,"m":14.74,"r":"PR"},{"p":25,"m":16.61,"r":"PR"},{"p":25,"m":18.48,"r":"PR"},{"p":25,"m":20.31,"r":"PR"},{"p":25,"m":21.73,"r":"ON"},
{"p":26,"m":1.92,"r":"SD"},{"p":26,"m":3.72,"r":"SD"},{"p":26,"m":5.6,"r":"PR"},{"p":26,"m":7.42,"r":"PR"},{"p":26,"m":9.27,"r":"PR"},{"p":26,"m":11.14,"r":"PR"},{"p":26,"m":12.97,"r":"PR"},{"p":26,"m":14.81,"r":"PR"},{"p":26,"m":16.64,"r":"PR"},{"p":26,"m":18.5,"r":"NE"},{"p":26,"m":20.36,"r":"PR"},{"p":26,"m":22.18,"r":"PR"},{"p":26,"m":24.03,"r":"PR"},{"p":26,"m":25.86,"r":"PR"},
{"p":27,"m":1.92,"r":"SD"},{"p":27,"m":3.75,"r":"SD"},{"p":27,"m":5.6,"r":"PR"},{"p":27,"m":7.42,"r":"PR"},{"p":27,"m":9.34,"r":"PR"},{"p":27,"m":11.14,"r":"PR"},{"p":27,"m":12.97,"r":"PR"},{"p":27,"m":14.81,"r":"PR"},{"p":27,"m":16.64,"r":"PR"},{"p":27,"m":18.53,"r":"PR"},{"p":27,"m":20.36,"r":"PR"},{"p":27,"m":23.17,"r":"PR"},{"p":27,"m":24.37,"r":"PR"},{"p":27,"m":26.11,"r":"PD"},{"p":27,"m":28.69,"r":"PD"},{"p":27,"m":32.6,"r":"PD"},{"p":27,"m":32.72,"r":"ON"},
{"p":28,"m":1.92,"r":"SD"},{"p":28,"m":3.77,"r":"SD"},{"p":28,"m":5.63,"r":"PR"},{"p":28,"m":7.55,"r":"PR"},{"p":28,"m":9.27,"r":"PR"},{"p":28,"m":9.78,"r":"PR"},{"p":28,"m":11.11,"r":"PD"},{"p":28,"m":12.94,"r":"PD"},{"p":28,"m":14.89,"r":"PD"},{"p":28,"m":16.66,"r":"PD"},{"p":28,"m":18.61,"r":"PD"},{"p":28,"m":20.36,"r":"PD"},{"p":28,"m":22.34,"r":"PD"},
{"p":29,"m":1.92,"r":"PR"},{"p":29,"m":3.77,"r":"PR"},{"p":29,"m":5.6,"r":"PR"},{"p":29,"m":7.42,"r":"CR"},{"p":29,"m":9.27,"r":"CR"},{"p":29,"m":11.14,"r":"CR"},{"p":29,"m":12.97,"r":"CR"},{"p":29,"m":14.81,"r":"CR"},{"p":29,"m":16.66,"r":"CR"},{"p":29,"m":18.53,"r":"CR"},{"p":29,"m":20.36,"r":"CR"},{"p":29,"m":22.28,"r":"CR"},{"p":29,"m":23.87,"r":"CR"},{"p":29,"m":25.9,"r":"CR"},{"p":29,"m":26.0,"r":"ON"},
{"p":30,"m":1.92,"r":"PR"},{"p":30,"m":3.75,"r":"PR"},{"p":30,"m":5.6,"r":"PR"},{"p":30,"m":7.42,"r":"PR"},{"p":30,"m":9.27,"r":"CR"},{"p":30,"m":11.11,"r":"CR"},{"p":30,"m":12.97,"r":"CR"},{"p":30,"m":14.81,"r":"CR"},{"p":30,"m":16.66,"r":"CR"},{"p":30,"m":18.53,"r":"CR"},{"p":30,"m":20.33,"r":"CR"},{"p":30,"m":22.2,"r":"CR"},{"p":30,"m":23.61,"r":"CR"},{"p":30,"m":25.28,"r":"CR"},{"p":30,"m":28.2,"r":"CR"},{"p":30,"m":28.33,"r":"ON"},
{"p":31,"m":1.92,"r":"SD"},{"p":31,"m":3.75,"r":"PR"},{"p":31,"m":5.6,"r":"PR"},{"p":31,"m":7.42,"r":"PR"},{"p":31,"m":9.3,"r":"PR"},{"p":31,"m":11.14,"r":"PR"},{"p":31,"m":12.97,"r":"PR"},{"p":31,"m":14.81,"r":"PR"},{"p":31,"m":16.66,"r":"PR"},{"p":31,"m":18.53,"r":"PR"},{"p":31,"m":20.39,"r":"PR"},{"p":31,"m":22.23,"r":"PR"},{"p":31,"m":23.17,"r":"PR"},{"p":31,"m":24.08,"r":"PR"},{"p":31,"m":25.0,"r":"PR"},{"p":31,"m":25.94,"r":"PR"},{"p":31,"m":28.72,"r":"PR"},{"p":31,"m":32.6,"r":"PD"},
{"p":32,"m":1.92,"r":"PR"},{"p":32,"m":3.75,"r":"PR"},{"p":32,"m":5.6,"r":"PR"},{"p":32,"m":7.42,"r":"PR"},{"p":32,"m":9.3,"r":"PR"},{"p":32,"m":11.14,"r":"PR"},{"p":32,"m":12.97,"r":"PR"},{"p":32,"m":14.81,"r":"PR"},{"p":32,"m":16.66,"r":"PR"},{"p":32,"m":18.53,"r":"PR"},{"p":32,"m":20.44,"r":"PR"},{"p":32,"m":22.23,"r":"PR"},{"p":32,"m":23.83,"r":"PR"},{"p":32,"m":25.7,"r":"PR"},{"p":32,"m":28.45,"r":"PR"},{"p":32,"m":32.15,"r":"PR"},{"p":32,"m":32.3,"r":"ON"},
{"p":33,"m":1.85,"r":"NE"},{"p":33,"m":3.75,"r":"PR"},{"p":33,"m":5.6,"r":"PR"},{"p":33,"m":7.42,"r":"NE"},{"p":33,"m":9.27,"r":"NE"},{"p":33,"m":11.14,"r":"NE"},{"p":33,"m":12.94,"r":"PR"},{"p":33,"m":14.81,"r":"PR"},{"p":33,"m":16.46,"r":"NE"},{"p":33,"m":16.72,"r":"PR"},{"p":33,"m":18.61,"r":"PR"},{"p":33,"m":20.44,"r":"PR"},{"p":33,"m":22.34,"r":"PR"},
{"p":34,"m":1.92,"r":"PR"},{"p":34,"m":3.77,"r":"PR"},{"p":34,"m":5.67,"r":"PR"},{"p":34,"m":7.52,"r":"PR"},{"p":34,"m":8.77,"r":"PR"},{"p":34,"m":9.3,"r":"PR"},{"p":34,"m":11.22,"r":"PR"},{"p":34,"m":13.05,"r":"PD"},{"p":34,"m":14.86,"r":"NE"},{"p":34,"m":16.74,"r":"NE"},{"p":34,"m":18.61,"r":"NE"},{"p":34,"m":20.44,"r":"NE"},{"p":34,"m":22.42,"r":"NE"},{"p":34,"m":23.67,"r":"NE"},
{"p":35,"m":2.0,"r":"SD"},{"p":35,"m":4.45,"r":"SD"},{"p":35,"m":5.88,"r":"SD"},{"p":35,"m":8.91,"r":"PR"},{"p":35,"m":10.6,"r":"PR"},{"p":35,"m":12.78,"r":"PR"},{"p":35,"m":14.3,"r":"PR"},{"p":35,"m":16.22,"r":"PR"},{"p":35,"m":18.3,"r":"PR"},{"p":35,"m":20.64,"r":"PR"},{"p":35,"m":22.23,"r":"PR"},{"p":35,"m":24.58,"r":"PR"},{"p":35,"m":27.58,"r":"PR"},{"p":35,"m":27.7,"r":"ON"}
],
"cB":[{"p":1,"s":0,"te":8.1,"fe":9.27,"a":"mCSCC cemiplimab: 350 mg Q2W"},{"p":2,"s":0,"te":10.45,"fe":22.1,"a":"mCSCC cemiplimab: 350 mg Q2W"},{"p":3,"s":0,"te":11.3,"fe":21.1,"a":"mCSCC cemiplimab: 350 mg Q2W"},{"p":4,"s":0,"te":11.6,"fe":25.95,"a":"mCSCC cemiplimab: 350 mg Q2W"},{"p":5,"s":0,"te":12.28,"fe":23.28,"a":"mCSCC cemiplimab: 350 mg Q2W"},{"p":6,"s":0,"te":12.3,"fe":22.86,"a":"mCSCC cemiplimab: 350 mg Q2W"},{"p":7,"s":0,"te":12.28,"fe":23.05,"a":"mCSCC cemiplimab: 350 mg Q2W"},{"p":8,"s":0,"te":12.28,"fe":19.0,"a":"mCSCC cemiplimab: 350 mg Q2W"},{"p":9,"s":0,"te":12.28,"fe":18.95,"a":"mCSCC cemiplimab: 350 mg Q2W"},{"p":10,"s":0,"te":12.28,"fe":18.92,"a":"mCSCC cemiplimab: 350 mg Q2W"},{"p":11,"s":0,"te":12.28,"fe":19.05,"a":"mCSCC cemiplimab: 350 mg Q2W"},{"p":12,"s":0,"te":12.28,"fe":22.86,"a":"mCSCC cemiplimab: 350 mg Q2W"},{"p":13,"s":0,"te":12.28,"fe":22.19,"a":"mCSCC cemiplimab: 350 mg Q2W"},{"p":14,"s":0,"te":12.28,"fe":23.15,"a":"mCSCC cemiplimab: 350 mg Q2W"},{"p":15,"s":0,"te":12.28,"fe":15.2,"a":"mCSCC cemiplimab: 350 mg Q2W"},{"p":16,"s":0,"te":13.6,"fe":13.6,"a":"mCSCC cemiplimab: 350 mg Q2W"},{"p":17,"s":0,"te":19.5,"fe":19.89,"a":"mCSCC cemiplimab: 350 mg Q2W"},{"p":18,"s":0,"te":21.06,"fe":21.37,"a":"mCSCC cemiplimab: 350 mg Q2W"},{"p":19,"s":0,"te":21.45,"fe":21.92,"a":"mCSCC cemiplimab: 350 mg Q2W"},{"p":20,"s":0,"te":21.7,"fe":22.16,"a":"mCSCC cemiplimab: 350 mg Q2W"},{"p":21,"s":0,"te":24.66,"fe":24.73,"a":"mCSCC cemiplimab: 350 mg Q2W"},{"p":22,"s":0,"te":24.66,"fe":24.73,"a":"mCSCC cemiplimab: 350 mg Q2W"},{"p":23,"s":0,"te":24.66,"fe":24.73,"a":"mCSCC cemiplimab: 350 mg Q2W"},{"p":24,"s":0,"te":24.8,"fe":26.17,"a":"mCSCC cemiplimab: 350 mg Q2W"}],
"cH":[{"p":17,"m":19.58},{"p":19,"m":21.56},{"p":20,"m":21.81}],
"cM":[
{"p":1,"m":2.11,"r":"PR"},{"p":1,"m":4.19,"r":"PR"},{"p":1,"m":6.35,"r":"PR"},{"p":1,"m":9.27,"r":"PR"},
{"p":2,"m":2.11,"r":"PR"},{"p":2,"m":4.16,"r":"PR"},{"p":2,"m":6.19,"r":"PR"},{"p":2,"m":8.3,"r":"PR"},{"p":2,"m":10.41,"r":"PR"},{"p":2,"m":12.5,"r":"PR"},{"p":2,"m":13.75,"r":"PR"},{"p":2,"m":15.67,"r":"PR"},{"p":2,"m":18.05,"r":"PR"},{"p":2,"m":21.97,"r":"PR"},{"p":2,"m":22.1,"r":"ON"},
{"p":3,"m":1.92,"r":"SD"},{"p":3,"m":4.19,"r":"PR"},{"p":3,"m":6.22,"r":"PR"},{"p":3,"m":8.41,"r":"PR"},{"p":3,"m":10.72,"r":"PR"},{"p":3,"m":12.81,"r":"PR"},{"p":3,"m":14.66,"r":"PR"},{"p":3,"m":17.42,"r":"PR"},{"p":3,"m":21.09,"r":"PR"},
{"p":4,"m":2.11,"r":"PR"},{"p":4,"m":4.19,"r":"PR"},{"p":4,"m":6.3,"r":"PR"},{"p":4,"m":8.36,"r":"PR"},{"p":4,"m":10.49,"r":"PR"},{"p":4,"m":13.22,"r":"PR"},{"p":4,"m":15.05,"r":"PD"},{"p":4,"m":17.86,"r":"PD"},{"p":4,"m":21.8,"r":"NE"},{"p":4,"m":25.95,"r":"NE"},
{"p":5,"m":2.11,"r":"PR"},{"p":5,"m":4.16,"r":"PR"},{"p":5,"m":6.22,"r":"PR"},{"p":5,"m":8.22,"r":"CR"},{"p":5,"m":10.36,"r":"CR"},{"p":5,"m":12.44,"r":"CR"},{"p":5,"m":14.3,"r":"CR"},{"p":5,"m":16.14,"r":"CR"},{"p":5,"m":19.14,"r":"CR"},{"p":5,"m":23.28,"r":"CR"},
{"p":6,"m":2.13,"r":"SD"},{"p":6,"m":4.19,"r":"SD"},{"p":6,"m":6.25,"r":"PR"},{"p":6,"m":8.36,"r":"PR"},{"p":6,"m":10.41,"r":"PD"},{"p":6,"m":12.5,"r":"PD"},{"p":6,"m":14.14,"r":"PD"},{"p":6,"m":16.0,"r":"PD"},{"p":6,"m":18.72,"r":"PD"},{"p":6,"m":22.86,"r":"PD"},
{"p":7,"m":2.03,"r":"PR"},{"p":7,"m":4.16,"r":"PR"},{"p":7,"m":6.22,"r":"PR"},{"p":7,"m":8.41,"r":"PR"},{"p":7,"m":10.47,"r":"PR"},{"p":7,"m":12.55,"r":"PR"},{"p":7,"m":14.7,"r":"PR"},{"p":7,"m":16.69,"r":"CR"},{"p":7,"m":19.06,"r":"CR"},{"p":7,"m":23.05,"r":"CR"},
{"p":8,"m":2.11,"r":"PR"},{"p":8,"m":4.16,"r":"PR"},{"p":8,"m":6.22,"r":"PR"},{"p":8,"m":8.3,"r":"PR"},{"p":8,"m":10.36,"r":"PR"},{"p":8,"m":12.42,"r":"PR"},{"p":8,"m":14.32,"r":"PR"},{"p":8,"m":16.38,"r":"PR"},{"p":8,"m":18.9,"r":"PR"},{"p":8,"m":19.0,"r":"ON"},
{"p":9,"m":2.11,"r":"PR"},{"p":9,"m":4.16,"r":"PR"},{"p":9,"m":6.19,"r":"PR"},{"p":9,"m":8.3,"r":"PR"},{"p":9,"m":10.36,"r":"PR"},{"p":9,"m":12.42,"r":"CR"},{"p":9,"m":14.32,"r":"CR"},{"p":9,"m":16.14,"r":"CR"},{"p":9,"m":18.92,"r":"CR"},
{"p":10,"m":2.11,"r":"PR"},{"p":10,"m":4.16,"r":"PR"},{"p":10,"m":6.22,"r":"PR"},{"p":10,"m":8.3,"r":"PR"},{"p":10,"m":10.39,"r":"PR"},{"p":10,"m":12.5,"r":"CR"},{"p":10,"m":14.32,"r":"CR"},{"p":10,"m":16.14,"r":"CR"},{"p":10,"m":18.92,"r":"CR"},
{"p":11,"m":2.11,"r":"SD"},{"p":11,"m":4.19,"r":"PR"},{"p":11,"m":6.22,"r":"PR"},{"p":11,"m":8.25,"r":"PR"},{"p":11,"m":10.41,"r":"PR"},{"p":11,"m":12.5,"r":"PR"},{"p":11,"m":14.35,"r":"PR"},{"p":11,"m":16.17,"r":"PR"},{"p":11,"m":18.95,"r":"PR"},{"p":11,"m":19.05,"r":"ON"},
{"p":12,"m":2.13,"r":"SD"},{"p":12,"m":4.19,"r":"PR"},{"p":12,"m":6.27,"r":"PR"},{"p":12,"m":8.33,"r":"PR"},{"p":12,"m":10.44,"r":"PR"},{"p":12,"m":12.75,"r":"PR"},{"p":12,"m":14.35,"r":"PR"},{"p":12,"m":16.22,"r":"PR"},{"p":12,"m":18.95,"r":"PR"},{"p":12,"m":22.86,"r":"PR"},
{"p":13,"m":2.08,"r":"PR"},{"p":13,"m":4.16,"r":"PR"},{"p":13,"m":6.22,"r":"PR"},{"p":13,"m":8.33,"r":"PR"},{"p":13,"m":10.41,"r":"PR"},{"p":13,"m":12.67,"r":"CR"},{"p":13,"m":13.64,"r":"CR"},{"p":13,"m":15.52,"r":"CR"},{"p":13,"m":18.05,"r":"CR"},{"p":13,"m":22.19,"r":"CR"},
{"p":14,"m":2.05,"r":"PR"},{"p":14,"m":4.16,"r":"PR"},{"p":14,"m":6.22,"r":"PR"},{"p":14,"m":8.33,"r":"PR"},{"p":14,"m":10.41,"r":"PR"},{"p":14,"m":12.5,"r":"PR"},{"p":14,"m":13.53,"r":"PR"},{"p":14,"m":15.39,"r":"PR"},{"p":14,"m":18.25,"r":"PR"},{"p":14,"m":23.05,"r":"PR"},{"p":14,"m":23.15,"r":"ON"},
{"p":15,"m":2.05,"r":"SD"},{"p":15,"m":4.16,"r":"PR"},{"p":15,"m":6.22,"r":"PR"},{"p":15,"m":8.3,"r":"PR"},{"p":15,"m":10.39,"r":"PR"},{"p":15,"m":12.5,"r":"PR"},{"p":15,"m":13.53,"r":"PR"},{"p":15,"m":15.2,"r":"PR"},
{"p":16,"m":2.05,"r":"SD"},{"p":16,"m":3.53,"r":"PR"},{"p":16,"m":4.16,"r":"PR"},{"p":16,"m":6.22,"r":"PR"},{"p":16,"m":8.3,"r":"PR"},{"p":16,"m":10.36,"r":"PD"},{"p":16,"m":12.32,"r":"PD"},{"p":16,"m":13.61,"r":"PD"},
{"p":17,"m":2.05,"r":"PR"},{"p":17,"m":4.16,"r":"PR"},{"p":17,"m":6.22,"r":"PR"},{"p":17,"m":8.3,"r":"PR"},{"p":17,"m":10.41,"r":"PR"},{"p":17,"m":12.44,"r":"PR"},{"p":17,"m":14.53,"r":"PR"},{"p":17,"m":16.58,"r":"PR"},{"p":17,"m":18.56,"r":"PR"},{"p":17,"m":19.89,"r":"ON"},
{"p":18,"m":2.08,"r":"PR"},{"p":18,"m":4.19,"r":"PR"},{"p":18,"m":6.25,"r":"CR"},{"p":18,"m":8.33,"r":"CR"},{"p":18,"m":10.49,"r":"CR"},{"p":18,"m":13.28,"r":"CR"},{"p":18,"m":15.33,"r":"CR"},{"p":18,"m":16.69,"r":"CR"},{"p":18,"m":18.8,"r":"CR"},{"p":18,"m":20.86,"r":"CR"},{"p":18,"m":21.37,"r":"ON"},
{"p":19,"m":1.41,"r":"NE"},{"p":19,"m":2.08,"r":"PR"},{"p":19,"m":4.16,"r":"PR"},{"p":19,"m":6.22,"r":"PR"},{"p":19,"m":8.33,"r":"PR"},{"p":19,"m":10.41,"r":"PR"},{"p":19,"m":12.5,"r":"PR"},{"p":19,"m":14.55,"r":"PR"},{"p":19,"m":16.64,"r":"CR"},{"p":19,"m":18.72,"r":"CR"},{"p":19,"m":20.78,"r":"CR"},{"p":19,"m":21.92,"r":"ON"},
{"p":20,"m":2.0,"r":"PR"},{"p":20,"m":4.42,"r":"PR"},{"p":20,"m":6.11,"r":"PR"},{"p":20,"m":7.91,"r":"PR"},{"p":20,"m":9.94,"r":"PR"},{"p":20,"m":12.03,"r":"PR"},{"p":20,"m":14.06,"r":"PR"},{"p":20,"m":16.14,"r":"PR"},{"p":20,"m":18.14,"r":"PR"},{"p":20,"m":20.23,"r":"PR"},{"p":20,"m":22.16,"r":"ON"},
{"p":21,"m":2.0,"r":"PR"},{"p":21,"m":4.19,"r":"PR"},{"p":21,"m":6.22,"r":"PR"},{"p":21,"m":8.3,"r":"PR"},{"p":21,"m":10.41,"r":"PR"},{"p":21,"m":12.5,"r":"PR"},{"p":21,"m":14.53,"r":"PR"},{"p":21,"m":16.64,"r":"PR"},{"p":21,"m":18.9,"r":"CR"},{"p":21,"m":20.78,"r":"CR"},{"p":21,"m":22.86,"r":"CR"},{"p":21,"m":24.73,"r":"ON"},
{"p":22,"m":2.0,"r":"SD"},{"p":22,"m":4.11,"r":"SD"},{"p":22,"m":6.19,"r":"PR"},{"p":22,"m":8.25,"r":"PR"},{"p":22,"m":10.33,"r":"PR"},{"p":22,"m":12.47,"r":"PR"},{"p":22,"m":14.5,"r":"PR"},{"p":22,"m":16.53,"r":"PR"},{"p":22,"m":18.64,"r":"PR"},{"p":22,"m":20.62,"r":"PR"},{"p":22,"m":22.7,"r":"PR"},{"p":22,"m":24.73,"r":"ON"},
{"p":23,"m":2.13,"r":"SD"},{"p":23,"m":4.19,"r":"SD"},{"p":23,"m":6.3,"r":"SD"},{"p":23,"m":8.33,"r":"PR"},{"p":23,"m":10.41,"r":"PR"},{"p":23,"m":12.5,"r":"PR"},{"p":23,"m":14.61,"r":"PR"},{"p":23,"m":16.66,"r":"PR"},{"p":23,"m":18.75,"r":"PR"},{"p":23,"m":20.78,"r":"PR"},{"p":23,"m":22.86,"r":"PR"},{"p":23,"m":24.73,"r":"ON"},
{"p":24,"m":2.13,"r":"NN"},{"p":24,"m":4.24,"r":"NN"},{"p":24,"m":6.22,"r":"CR"},{"p":24,"m":8.3,"r":"CR"},{"p":24,"m":10.31,"r":"CR"},{"p":24,"m":12.52,"r":"CR"},{"p":24,"m":14.58,"r":"CR"},{"p":24,"m":16.64,"r":"CR"},{"p":24,"m":18.72,"r":"CR"},{"p":24,"m":20.83,"r":"CR"},{"p":24,"m":22.86,"r":"CR"},{"p":24,"m":25.0,"r":"CR"},{"p":24,"m":26.17,"r":"CR"}
]
},
"vconcat":[
{"width":725,"height":315,"title":{"text":"A"},
"layer":[
{"data":{"name":"aB"},"mark":{"type":"rule","color":"#A9A9A9","strokeWidth":2},
"encoding":{"x":{"field":"te","type":"quantitative","scale":{"domain":[0,34],"nice":false},"axis":{"title":"Months","values":[0,2,4,6,8,10,12,14,16,18,20,22,24,26,28,30,32,34]}},"x2":{"field":"fe"},"y":{"field":"p","type":"ordinal","scale":{"type":"point","padding":0.84},"axis":{"title":"Patients with response"}}}},
{"data":{"name":"aB"},"mark":{"type":"rule","strokeWidth":3},
"encoding":{"x":{"field":"s","type":"quantitative"},"x2":{"field":"te"},"y":{"field":"p","type":"ordinal"},
"stroke":{"field":"a","type":"nominal","scale":{"range":["#E4C33A"]},"legend":{"orient":"none","legendX":225,"legendY":357,"title":null,"symbolType":"stroke","symbolSize":2025,"symbolStrokeWidth":2,"labelFontSize":11.3,"labelOffset":8}}}},
{"data":{"name":"aM"},"mark":{"type":"point","filled":true,"size":45,"opacity":1},
"encoding":{"x":{"field":"m","type":"quantitative"},"y":{"field":"p","type":"ordinal"},
"color":{"field":"r","type":"nominal","scale":{"domain":["CR","PR","SD","PD","NE","NN","SR","ON"],"range":["#3C3A8E","#2E8C3E","#8F4A9C","#EA4A3B","#A5A5A5","#F2805F","#E4231F","#9A9A9A"]},"legend":{"orient":"none","legendX":716,"legendY":7,"title":null,"labelBaseline":"alphabetic","encode":{"labels":{"update":{"dy":{"value":3.5}}}},"labelExpr":"datum.value=='CR'?'Complete response':datum.value=='PR'?'Partial response':datum.value=='SD'?'Stable disease':datum.value=='PD'?'Progressive disease':datum.value=='NE'?'Not evaluable':datum.value=='NN'?['Non-complete response/','non-progressive disease']:datum.value=='SR'?['Surgical removal of','target lesion']:'Ongoing study'"}},
"shape":{"field":"r","type":"nominal","scale":{"domain":["CR","PR","SD","PD","NE","NN","SR","ON"],"range":["triangle-up","triangle-up","circle","M-0.2,1L0.2,1L0.2,-1L-0.2,-1ZM0.766,0.673L0.966,0.327L-0.766,-0.673L-0.966,-0.327ZM-0.966,0.327L-0.766,0.673L0.966,-0.327L0.766,-0.673Z","square","circle","diamond","M-1,-0.1L0.6,-0.1L0.6,0.1L-1,0.1ZM0.1,-0.65L0.25,-0.8L1.05,0L0.25,0.8L0.1,0.65L0.75,0Z"]},"legend":{"orient":"none","legendX":716,"legendY":7,"title":null,"labelBaseline":"alphabetic","encode":{"labels":{"update":{"dy":{"value":3.5}}}},"labelExpr":"datum.value=='CR'?'Complete response':datum.value=='PR'?'Partial response':datum.value=='SD'?'Stable disease':datum.value=='PD'?'Progressive disease':datum.value=='NE'?'Not evaluable':datum.value=='NN'?['Non-complete response/','non-progressive disease']:datum.value=='SR'?['Surgical removal of','target lesion']:'Ongoing study'"}}}}
]},
{"width":725,"height":315,"title":{"text":"B"},
"layer":[
{"data":{"name":"bB"},"mark":{"type":"rule","color":"#A9A9A9","strokeWidth":2},
"encoding":{"x":{"field":"te","type":"quantitative","scale":{"domain":[0,34],"nice":false},"axis":{"title":"Months","values":[0,2,4,6,8,10,12,14,16,18,20,22,24,26,28,30,32,34]}},"x2":{"field":"fe"},"y":{"field":"p","type":"ordinal","scale":{"type":"point","padding":1.25},"axis":{"title":"Patients with response"}}}},
{"data":{"name":"bB"},"mark":{"type":"rule","strokeWidth":2.6},
"encoding":{"x":{"field":"s","type":"quantitative"},"x2":{"field":"te"},"y":{"field":"p","type":"ordinal"},
"stroke":{"field":"a","type":"nominal","scale":{"range":["#E4C33A"]},"legend":{"orient":"none","legendX":225,"legendY":358,"title":null,"symbolType":"stroke","symbolSize":2025,"symbolStrokeWidth":2,"labelFontSize":11.3,"labelOffset":8}}}},
{"data":{"name":"bH"},"mark":{"type":"point","filled":true,"shape":"triangle-right","size":60,"color":"#E4C33A","opacity":1},
"encoding":{"x":{"field":"m","type":"quantitative"},"y":{"field":"p","type":"ordinal"}}},
{"data":{"name":"bM"},"mark":{"type":"point","filled":true,"size":42,"opacity":1},
"encoding":{"x":{"field":"m","type":"quantitative"},"y":{"field":"p","type":"ordinal"},
"color":{"field":"r","type":"nominal","scale":{"domain":["CR","PR","SD","PD","NE","ON"],"range":["#3C3A8E","#2E8C3E","#8F4A9C","#EA4A3B","#A5A5A5","#9A9A9A"]},"legend":{"orient":"none","legendX":716,"legendY":6.5,"title":null,"labelBaseline":"alphabetic","encode":{"labels":{"update":{"dy":{"value":3.5}}}},"labelExpr":"datum.value=='CR'?'Complete response':datum.value=='PR'?'Partial response':datum.value=='SD'?'Stable disease':datum.value=='PD'?'Progressive disease':datum.value=='NE'?'Not evaluable':'Ongoing study'"}},
"shape":{"field":"r","type":"nominal","scale":{"domain":["CR","PR","SD","PD","NE","ON"],"range":["triangle-up","triangle-up","circle","M-0.2,1L0.2,1L0.2,-1L-0.2,-1ZM0.766,0.673L0.966,0.327L-0.766,-0.673L-0.966,-0.327ZM-0.966,0.327L-0.766,0.673L0.966,-0.327L0.766,-0.673Z","square","M-1,-0.1L0.6,-0.1L0.6,0.1L-1,0.1ZM0.1,-0.65L0.25,-0.8L1.05,0L0.25,0.8L0.1,0.65L0.75,0Z"]},"legend":{"orient":"none","legendX":716,"legendY":6.5,"title":null,"labelBaseline":"alphabetic","encode":{"labels":{"update":{"dy":{"value":3.5}}}},"labelExpr":"datum.value=='CR'?'Complete response':datum.value=='PR'?'Partial response':datum.value=='SD'?'Stable disease':datum.value=='PD'?'Progressive disease':datum.value=='NE'?'Not evaluable':'Ongoing study'"}}}}
]},
{"width":725,"height":315,"title":{"text":"C"},
"layer":[
{"data":{"name":"cB"},"mark":{"type":"rule","color":"#A9A9A9","strokeWidth":2},
"encoding":{"x":{"field":"te","type":"quantitative","scale":{"domain":[0,34],"nice":false},"axis":{"title":"Months","values":[0,2,4,6,8,10,12,14,16,18,20,22,24,26,28,30,32,34]}},"x2":{"field":"fe"},"y":{"field":"p","type":"ordinal","scale":{"type":"point","padding":0.63},"axis":{"title":"Patients with response"}}}},
{"data":{"name":"cB"},"mark":{"type":"rule","strokeWidth":3},
"encoding":{"x":{"field":"s","type":"quantitative"},"x2":{"field":"te"},"y":{"field":"p","type":"ordinal"},
"stroke":{"field":"a","type":"nominal","scale":{"range":["#E4C33A"]},"legend":{"orient":"none","legendX":225,"legendY":357,"title":null,"symbolType":"stroke","symbolSize":2025,"symbolStrokeWidth":2,"labelFontSize":11.3,"labelOffset":8}}}},
{"data":{"name":"cH"},"mark":{"type":"point","filled":true,"shape":"triangle-right","size":70,"color":"#E4C33A","opacity":1},
"encoding":{"x":{"field":"m","type":"quantitative"},"y":{"field":"p","type":"ordinal"}}},
{"data":{"name":"cM"},"mark":{"type":"point","filled":true,"size":45,"opacity":1},
"encoding":{"x":{"field":"m","type":"quantitative"},"y":{"field":"p","type":"ordinal"},
"color":{"field":"r","type":"nominal","scale":{"domain":["CR","PR","SD","PD","NE","NN","ON"],"range":["#3C3A8E","#2E8C3E","#8F4A9C","#EA4A3B","#A5A5A5","#F2805F","#9A9A9A"]},"legend":{"orient":"none","legendX":716,"legendY":-3.5,"title":null,"labelBaseline":"alphabetic","encode":{"labels":{"update":{"dy":{"value":3.5}}}},"labelExpr":"datum.value=='CR'?'Complete response':datum.value=='PR'?'Partial response':datum.value=='SD'?'Stable disease':datum.value=='PD'?'Progressive disease':datum.value=='NE'?'Not evaluable':datum.value=='NN'?['Non-complete response/','non-progressive disease']:'Ongoing study'"}},
"shape":{"field":"r","type":"nominal","scale":{"domain":["CR","PR","SD","PD","NE","NN","ON"],"range":["triangle-up","triangle-up","circle","M-0.2,1L0.2,1L0.2,-1L-0.2,-1ZM0.766,0.673L0.966,0.327L-0.766,-0.673L-0.966,-0.327ZM-0.966,0.327L-0.766,0.673L0.966,-0.327L0.766,-0.673Z","square","circle","M-1,-0.1L0.6,-0.1L0.6,0.1L-1,0.1ZM0.1,-0.65L0.25,-0.8L1.05,0L0.25,0.8L0.1,0.65L0.75,0Z"]},"legend":{"orient":"none","legendX":716,"legendY":-3.5,"title":null,"labelBaseline":"alphabetic","encode":{"labels":{"update":{"dy":{"value":3.5}}}},"labelExpr":"datum.value=='CR'?'Complete response':datum.value=='PR'?'Partial response':datum.value=='SD'?'Stable disease':datum.value=='PD'?'Progressive disease':datum.value=='NE'?'Not evaluable':datum.value=='NN'?['Non-complete response/','non-progressive disease']:'Ongoing study'"}}}}
]}
]
}
